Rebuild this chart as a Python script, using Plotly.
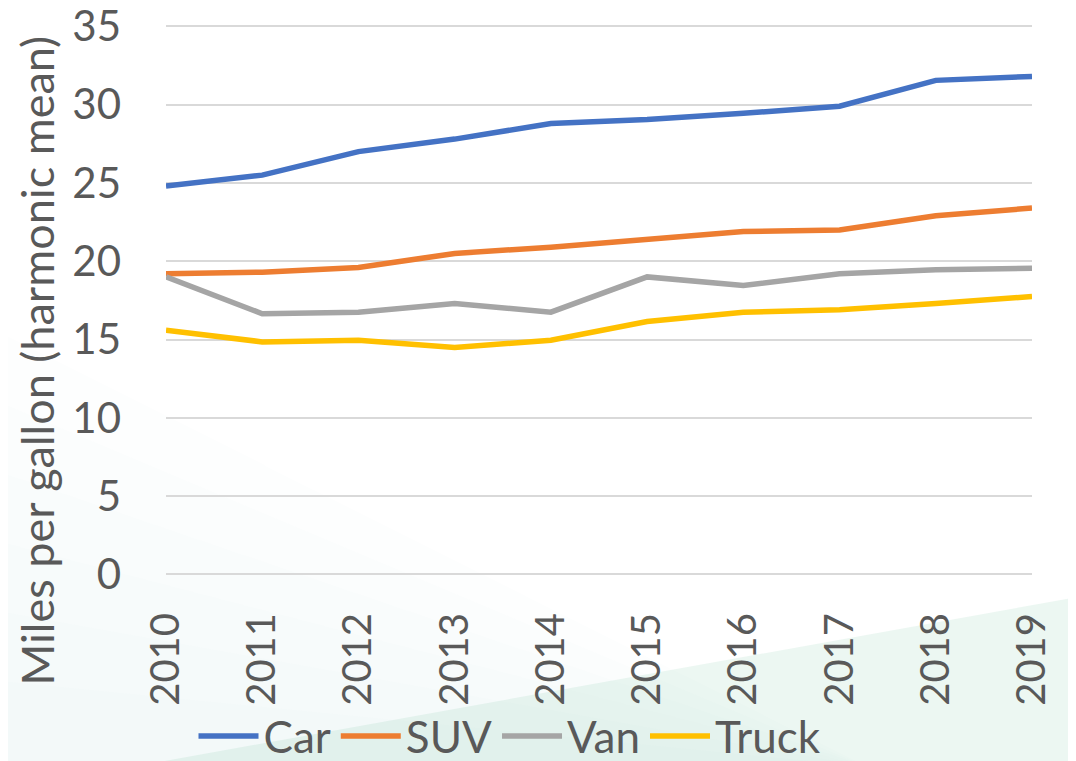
import plotly.graph_objects as go

years = ["2010", "2011", "2012", "2013", "2014", "2015", "2016", "2017", "2018", "2019"]
car = [24.8, 25.5, 27.0, 27.8, 28.8, 29.05, 29.45, 29.9, 31.55, 31.8]
suv = [19.2, 19.3, 19.6, 20.5, 20.9, 21.4, 21.9, 22.0, 22.9, 23.4]
van = [19.0, 16.65, 16.75, 17.3, 16.75, 19.0, 18.45, 19.2, 19.45, 19.55]
truck = [15.6, 14.85, 14.95, 14.5, 14.95, 16.15, 16.75, 16.9, 17.3, 17.75]

series = [("Car", car, "#4472C4"), ("SUV", suv, "#ED7D31"),
          ("Van", van, "#A5A5A5"), ("Truck", truck, "#FFC000")]

FONT = "Lato, 'Open Sans', sans-serif"
TXT = "#595959"

fig = go.Figure()
for name, vals, col in series:
    fig.add_trace(go.Scatter(x=years, y=vals, name=name, mode="lines",
                             line=dict(color=col, width=5.5)))

# page offset from default body margin
OFF = 8
W, H = 1076 - OFF, 761 - OFF
YMIN, YMAX = -0.1, 35.15
UNIT = 548 / 35.0  # px per mpg unit (0 at page y 574, 35 at page y 26)
top_page = 26 - (YMAX - 35) * UNIT
bot_page = 574 - YMIN * UNIT
L, R = 166 - OFF, 1032 - OFF
T, B = top_page - OFF, bot_page - OFF

def px(x):  # page px -> paper
    return (x - OFF - L) / (R - L)
def py(y):
    return (B - (y - OFF)) / (B - T)

shapes = []
for apex in (330, 400, 470, 540, 610, 680):
    p = f"M {px(-5)},{py(apex)} L {px(866)},{py(766)} L {px(-5)},{py(766)} Z"
    shapes.append(dict(type="path", path=p, xref="paper", yref="paper", layer="below",
                       fillcolor="rgba(120,195,165,0.016)", line=dict(width=0)))
tri2 = f"M {px(-5)},{py(791)} L {px(1081)},{py(596)} L {px(1081)},{py(766)} L {px(-5)},{py(766)} Z"
shapes.append(dict(type="path", path=tri2, xref="paper", yref="paper", layer="below",
                   fillcolor="rgba(120,195,165,0.14)", line=dict(width=0)))

fig.update_layout(
    width=W, height=H,
    margin=dict(l=L, r=W - R, t=T, b=H - B, autoexpand=False),
    paper_bgcolor="white",
    plot_bgcolor="rgba(0,0,0,0)",
    font=dict(family=FONT, color=TXT, size=40),
    showlegend=True,
    legend=dict(orientation="h", x=px(510), xanchor="center", y=py(736), yanchor="middle",
                font=dict(size=44, color=TXT), bgcolor="rgba(0,0,0,0)",
                itemwidth=60, tracegroupgap=0),
    shapes=shapes,
    annotations=[
        dict(text="Miles per gallon (harmonic mean)", textangle=-90,
             xref="paper", yref="paper", x=px(37), y=py(360),
             xanchor="center", yanchor="middle", showarrow=False,
             font=dict(size=45, color=TXT, family=FONT)),
    ],
)

fig.update_xaxes(type="category", range=[0, 9], showgrid=False, zeroline=False,
                 showline=False, tickangle=-90, ticklabelstandoff=28,
                 tickfont=dict(size=40, color=TXT))
fig.update_yaxes(range=[YMIN, YMAX], tickvals=[0, 5, 10, 15, 20, 25, 30, 35],
                 showgrid=True, gridcolor="#D9D9D9", ticklabeloverflow="allow",
                 gridwidth=1.5, zeroline=False, showline=False,
                 ticklabelstandoff=44, tickfont=dict(size=42, color=TXT))

fig.write_html("out.html")
